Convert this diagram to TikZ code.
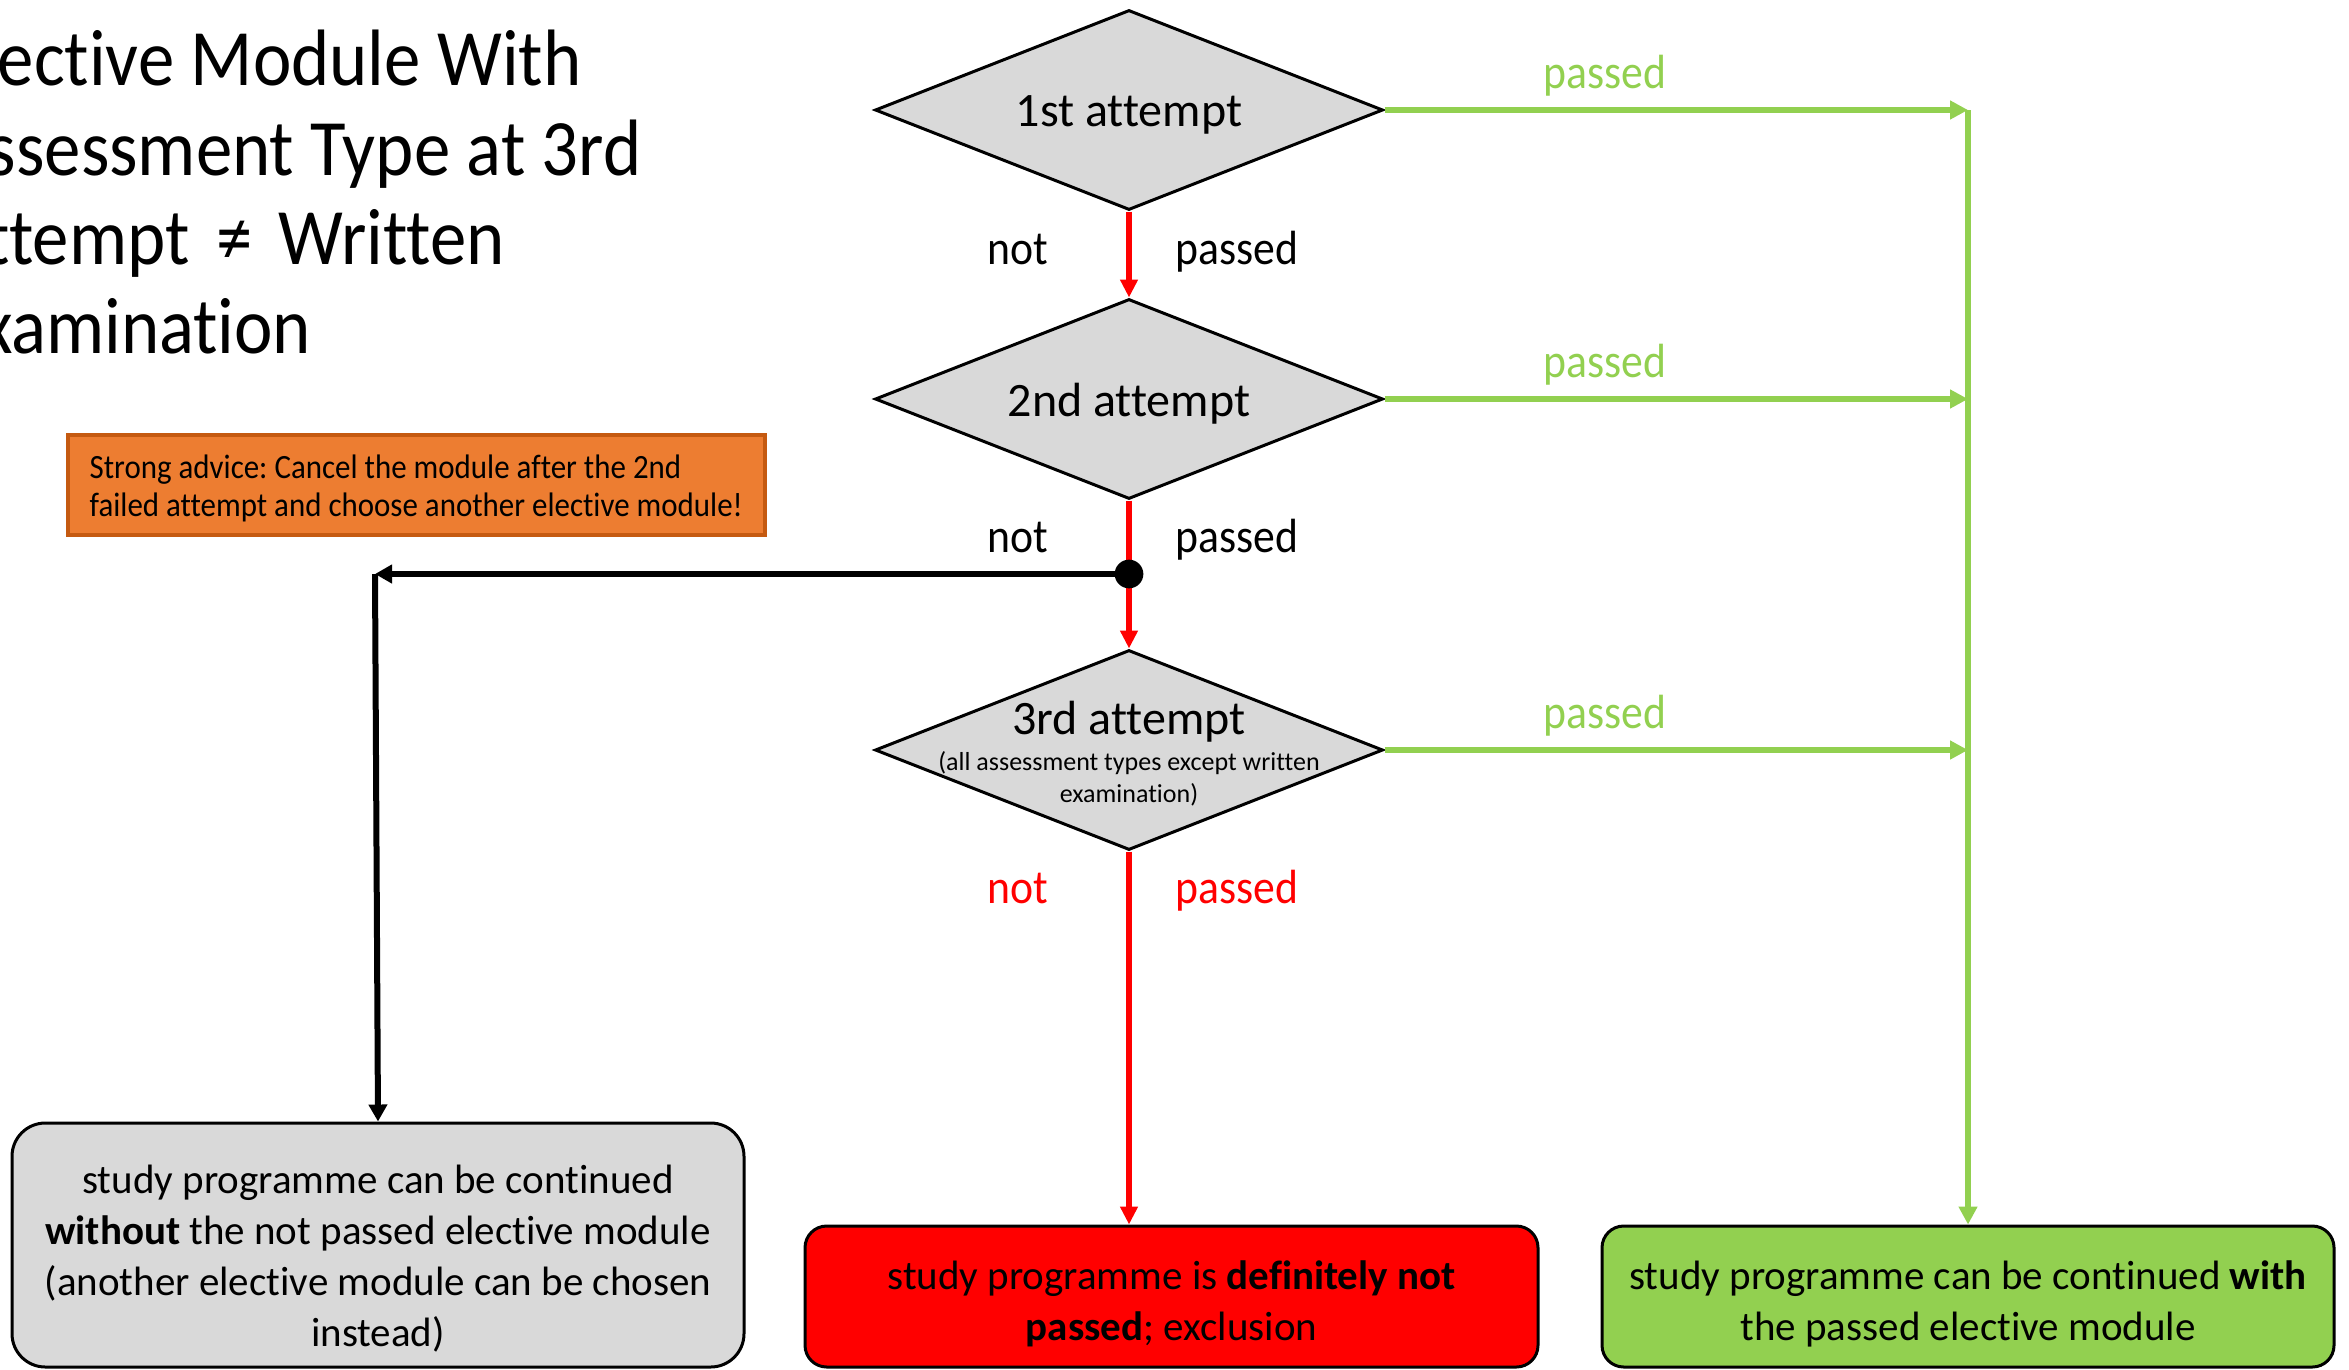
\documentclass[tikz,border=0pt]{standalone}
\usepackage{fontspec}
\setmainfont{Carlito}[Ligatures=CommonOff]
\newfontfamily\narrowfont{Carlito}[Ligatures=CommonOff, FakeStretch=0.91]
\usetikzlibrary{arrows.meta,shapes.geometric}
\definecolor{dgrey}{HTML}{D9D9D9}
\definecolor{pgreen}{HTML}{92D050}
\definecolor{pred}{HTML}{FF0000}
\definecolor{porange}{HTML}{ED7D31}
\definecolor{porangeb}{HTML}{C55A11}
\frenchspacing
\begin{document}
\begin{tikzpicture}[x=0.3pt,y=-0.3pt,
  titletext/.style={inner sep=0pt, anchor=base west, font=\narrowfont\fontsize{24}{27}\selectfont},
  dia/.style={diamond, draw=black, line width=0.9pt, fill=dgrey, minimum width=152.4pt, minimum height=60pt, inner sep=0pt},
  dlabel/.style={inner sep=0pt, anchor=base, font=\fontsize{14.4}{17}\selectfont},
  dsub/.style={inner sep=0pt, align=center, font=\fontsize{7.8}{9.6}\selectfont},
  lab/.style={inner sep=0pt, font=\narrowfont\fontsize{14.4}{17}\selectfont},
  endbox/.style={rectangle, draw=black, line width=0.9pt, minimum width=219.6pt, inner sep=0pt},
  boxtext/.style={inner sep=0pt, align=center, font=\fontsize{12.3}{15.3}\selectfont},
  advice/.style={rectangle, draw=porangeb, line width=1.2pt, fill=porange, minimum width=209.1pt, minimum height=30pt, inner sep=0pt},
  advicetext/.style={inner sep=0pt, anchor=west, align=left, font=\narrowfont\fontsize{10.2}{11.4}\selectfont},
  redarr/.style={draw=pred, line width=2pt, -{Triangle[length=5.4pt,width=5.1pt]}},
  greenarr/.style={draw=pgreen, line width=1.7pt, -{Triangle[length=5.4pt,width=5.4pt]}},
  blackarr/.style={draw=black, line width=1.8pt, -{Triangle[length=5.1pt,width=5.4pt]}},
  dotn/.style={circle, fill=black, minimum size=8.6pt, inner sep=0pt}
]
\useasboundingbox (0,0) rectangle (2349,1369);
\clip (0,0) rectangle (2349,1369);

% title
\node[titletext] (t1) at (-55,85) {Elective Module With};
\node[titletext] (t2) at (-55,175) {Assessment Type at 3rd};
\node[titletext] (t3) at (-55,264) {Attempt\hspace{3pt} ≠\hspace{3pt} Written};
\node[titletext] (t4) at (-55,353) {Examination};

% advice
\node[advice] (adv) at (416.5,485) {};
\node[advicetext] (advt) at (89,488) {Strong advice: Cancel the module after the 2nd\\failed attempt and choose another elective module!};

% diamonds
\node[dia] (d1) at (1129,110) {};
\node[dia] (d2) at (1129,399) {};
\node[dia] (d3) at (1129,750) {};
\node[dlabel] (l1) at (1129,126) {1st attempt};
\node[dlabel] (l2) at (1129,416) {2nd attempt};
\node[dlabel] (l3) at (1129,734) {3rd attempt};
\node[dsub] (l3s) at (1129,779) {(all assessment types except written\\examination)};

% end boxes
\node[endbox, fill=dgrey, rounded corners=10pt, minimum height=73.2pt] (grey) at (378,1245) {};
\node[boxtext] (greyt) at (378,1259) {study programme can be continued\\\textbf{without} the not passed elective module\\(another elective module can be chosen\\instead)};
\node[endbox, fill=pred, rounded corners=6.5pt, minimum width=219.9pt, minimum height=42.3pt] (red) at (1171.5,1296.5) {};
\node[boxtext] (redt) at (1171.5,1304) {study programme is \textbf{definitely not}\\\textbf{passed}; exclusion};
\node[endbox, fill=pgreen, rounded corners=6.5pt, minimum height=42.3pt] (green) at (1968,1296.5) {};
\node[boxtext] (greent) at (1968,1304) {study programme can be continued \textbf{with}\\the passed elective module};

% connectors
\coordinate (dotc) at (1129,574);
\coordinate (corner) at (375,574);
\draw[redarr] (d1.south) -- (d2.north);
\draw[redarr] (d2.south) -- (d3.north);
\draw[redarr] (d3.south) -- (d3.south |- red.north);
\draw[blackarr] (dotc) -- (corner);
\draw[blackarr] (corner) -- (grey.north);
\node[dotn] (dot) at (dotc) {};
\coordinate (g1) at (d1.east -| green.north);
\coordinate (g2) at (d2.east -| green.north);
\coordinate (g3) at (d3.east -| green.north);
\draw[greenarr] (d1.east) -- (g1);
\draw[greenarr] (d2.east) -- (g2);
\draw[greenarr] (d3.east) -- (g3);
\draw[greenarr] (g1) -- (green.north);

% labels
\node[lab, anchor=base east] (n1) at (1049,264) {not};
\node[lab, anchor=base west] (p1) at (1175,264) {passed};
\node[lab, anchor=base east] (n2) at (1049,552) {not};
\node[lab, anchor=base west] (p2) at (1175,552) {passed};
\node[lab, anchor=base east, text=pred] (n3) at (1049,903) {not};
\node[lab, anchor=base west, text=pred] (p3) at (1175,903) {passed};
\node[lab, anchor=base, text=pgreen] (gp1) at (1605,88) {passed};
\node[lab, anchor=base, text=pgreen] (gp2) at (1605,377) {passed};
\node[lab, anchor=base, text=pgreen] (gp3) at (1605,728) {passed};
\end{tikzpicture}
\end{document}
